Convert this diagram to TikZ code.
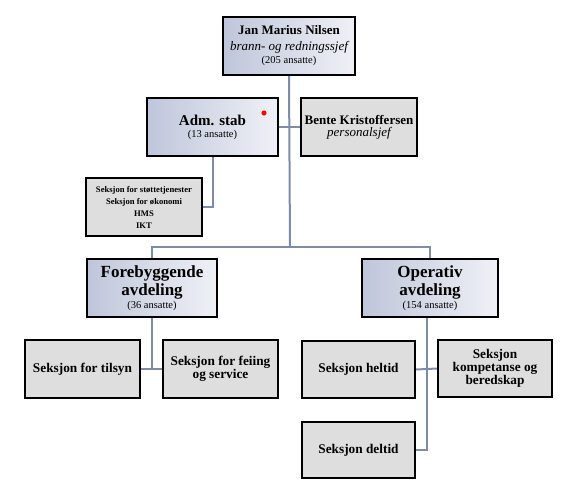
\documentclass[tikz,border=0pt]{standalone}
\usepackage{fontspec}
\setmainfont{Liberation Serif}
\usetikzlibrary{backgrounds}
\definecolor{conn}{HTML}{7F8CA8}
\definecolor{shdark}{HTML}{BFC6DA}
\definecolor{shlight}{HTML}{EFF1F6}
\definecolor{boxgray}{HTML}{DEDEDE}
\tikzset{
  base/.style={draw=black, line width=2pt, align=center, inner sep=1pt, anchor=center},
  bluebox/.style={base, left color=shdark, right color=shlight},
  graybox/.style={base, fill=boxgray},
  conline/.style={draw=conn, line width=2pt}
}
\newcommand{\fs}[2]{\fontsize{#1}{#2}\selectfont}
\begin{document}
\begin{tikzpicture}[x=1pt,y=-1pt]
\useasboundingbox (0,0) rectangle (582,490);
\coordinate (j1) at (290,247);
\node[bluebox, minimum width=132pt, minimum height=58pt] (top) at (289,46)
  {\fs{13}{16}\bfseries Jan Marius Nilsen\\[4pt]
   \fs{13}{18}\itshape brann- og redningssjef\\[1pt]
   \fs{10.5}{13}(205 ansatte)};
\node[bluebox, minimum width=131pt, minimum height=58pt] (adm) at (212.5,127)
  {\fs{15}{16}\bfseries Adm. stab\\
   \fs{10.5}{11}(13 ansatte)};
\node[graybox, minimum width=116pt, minimum height=58pt] (bente) at (359,127)
  {\fs{13}{14}\bfseries Bente Kristoffersen\\
   \fs{13}{14}\itshape personalsjef};
\node[graybox, minimum width=116pt, minimum height=58pt] (list) at (144,207)
  {\fs{8.6}{12.5}\bfseries Seksjon for støttetjenester\\
   \fs{8.6}{12.5}\bfseries Seksjon for økonomi\\
   \fs{8.6}{12.5}\bfseries HMS\\
   \fs{8.6}{12.5}\bfseries IKT};
\node[bluebox, minimum width=130pt, minimum height=58pt] (fore) at (152,288)
  {\fs{17}{18}\bfseries Forebyggende\\[2pt]
   \fs{17}{19.5}\bfseries avdeling\\[1pt]
   \fs{10.5}{13}(36 ansatte)};
\node[bluebox, minimum width=136pt, minimum height=58pt] (oper) at (430,288)
  {\fs{17}{18}\bfseries Operativ\\[2pt]
   \fs{17}{19.5}\bfseries avdeling\\[1pt]
   \fs{10.5}{13}(154 ansatte)};
\node[graybox, minimum width=115pt, minimum height=58pt] (tilsyn) at (82.5,369)
  {\fs{13.3}{14}\bfseries Seksjon for tilsyn};
\node[graybox, minimum width=115pt, minimum height=58pt] (feiing) at (220.5,369)
  {\fs{13.3}{14}\bfseries Seksjon for feiing\\
   \fs{13.3}{14}\bfseries og service};
\node[graybox, minimum width=113pt, minimum height=57pt] (heltid) at (358.5,369.5)
  {\fs{13.3}{14}\bfseries Seksjon heltid};
\node[graybox, minimum width=114pt, minimum height=57pt] (komp) at (495,368.5)
  {\fs{13.3}{14}\bfseries Seksjon\\
   \fs{13.3}{14}\bfseries kompetanse og\\
   \fs{13.3}{14}\bfseries beredskap};
\node[graybox, minimum width=113pt, minimum height=56pt] (deltid) at (358.5,450)
  {\fs{13.3}{14}\bfseries Seksjon deltid};
\coordinate (ojoin) at (427,450);
\begin{scope}[on background layer]
\path[conline] (top.south) -- (j1);
\path[conline] (fore.north) |- (j1) -| (oper.north);
\path[conline] (adm.east) -- (bente.west);
\path[conline] (adm.south) |- (list.east);
\path[conline] (fore.south) |- (tilsyn.east);
\path[conline] (tilsyn.east) -- (feiing.west);
\path[conline] (heltid.east) -- (komp.west);
\path[conline] (oper.south -| ojoin) -- (ojoin) -- (deltid.east);
\end{scope}
\fill[red] (264,113) circle (2.6pt);
\end{tikzpicture}
\end{document}
